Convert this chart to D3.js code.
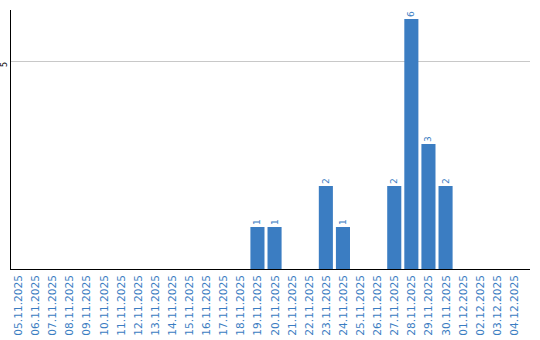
<!DOCTYPE html>
<html><head><meta charset="utf-8">
<script src="https://cdn.jsdelivr.net/npm/d3@7"></script>
<style>
html,body{margin:0;padding:0;background:#fff;}
svg{display:block;}
text{font-family:"DejaVu Sans",Verdana,sans-serif;}
</style></head>
<body>
<svg id="chart" width="540" height="340"></svg>
<script>
const categories = ["05.11.2025","06.11.2025","07.11.2025","08.11.2025","09.11.2025","10.11.2025","11.11.2025","12.11.2025","13.11.2025","14.11.2025","15.11.2025","16.11.2025","17.11.2025","18.11.2025","19.11.2025","20.11.2025","21.11.2025","22.11.2025","23.11.2025","24.11.2025","25.11.2025","26.11.2025","27.11.2025","28.11.2025","29.11.2025","30.11.2025","01.12.2025","02.12.2025","03.12.2025","04.12.2025"];
const values = [0,0,0,0,0,0,0,0,0,0,0,0,0,0,1,1,0,0,2,1,0,0,2,6,3,2,0,0,0,0];
const yTicks = [5];

(function(){
const svg = d3.select("#chart");
const mLeft = 10, mRight = 530, mTop = 10, mBottom = 269;
const barColor = "#3b7dc2";

const x = d3.scaleBand().domain(categories).range([mLeft, mLeft + 17*categories.length]).paddingInner(3/17).paddingOuter(0).align(0);
const y = d3.scaleLinear().domain([0, 5]).range([mBottom, 61]);

svg.append("g").selectAll("line").data(yTicks).join("line")
  .attr("x1", mLeft).attr("x2", mRight)
  .attr("y1", d => Math.round(y(d)) + 0.5).attr("y2", d => Math.round(y(d)) + 0.5)
  .attr("stroke", "#c8c8c8").attr("stroke-width", 1);

svg.append("g").selectAll("text").data(yTicks).join("text")
  .attr("transform", d => `translate(6.5,${y(d) + 1}) rotate(-90)`)
  .attr("text-anchor", "end")
  .attr("font-size", 8)
  .attr("fill", "#000")
  .text(d => d);

const bars = categories.map((c, i) => ({c, v: values[i]})).filter(d => d.v > 0);
svg.append("g").selectAll("rect").data(bars).join("rect")
  .attr("x", d => x(d.c) + 1)
  .attr("width", x.bandwidth())
  .attr("y", d => Math.round(y(d.v)))
  .attr("height", d => mBottom - Math.round(y(d.v)))
  .attr("fill", barColor);

svg.append("g").selectAll("text").data(bars).join("text")
  .attr("transform", d => `translate(${x(d.c) + 1 + x.bandwidth()/2 + 3},${Math.round(y(d.v)) - 2}) rotate(-90)`)
  .attr("text-anchor", "start")
  .attr("font-size", 9)
  .attr("fill", barColor)
  .text(d => d.v);

svg.append("line").attr("x1", mLeft + 0.5).attr("x2", mLeft + 0.5).attr("y1", mTop).attr("y2", mBottom + 0.5)
  .attr("stroke", "#000").attr("stroke-width", 1);
svg.append("line").attr("x1", mLeft).attr("x2", mRight).attr("y1", mBottom + 0.5).attr("y2", mBottom + 0.5)
  .attr("stroke", "#000").attr("stroke-width", 1);

svg.append("g").selectAll("text").data(categories).join("text")
  .attr("transform", c => `translate(${x(c) + 1 + x.bandwidth()/2 + 4},275) rotate(-90)`)
  .attr("text-anchor", "end")
  .attr("font-size", 10.6)
  .attr("fill", barColor)
  .text(c => c);
})();
</script>
</body></html>
